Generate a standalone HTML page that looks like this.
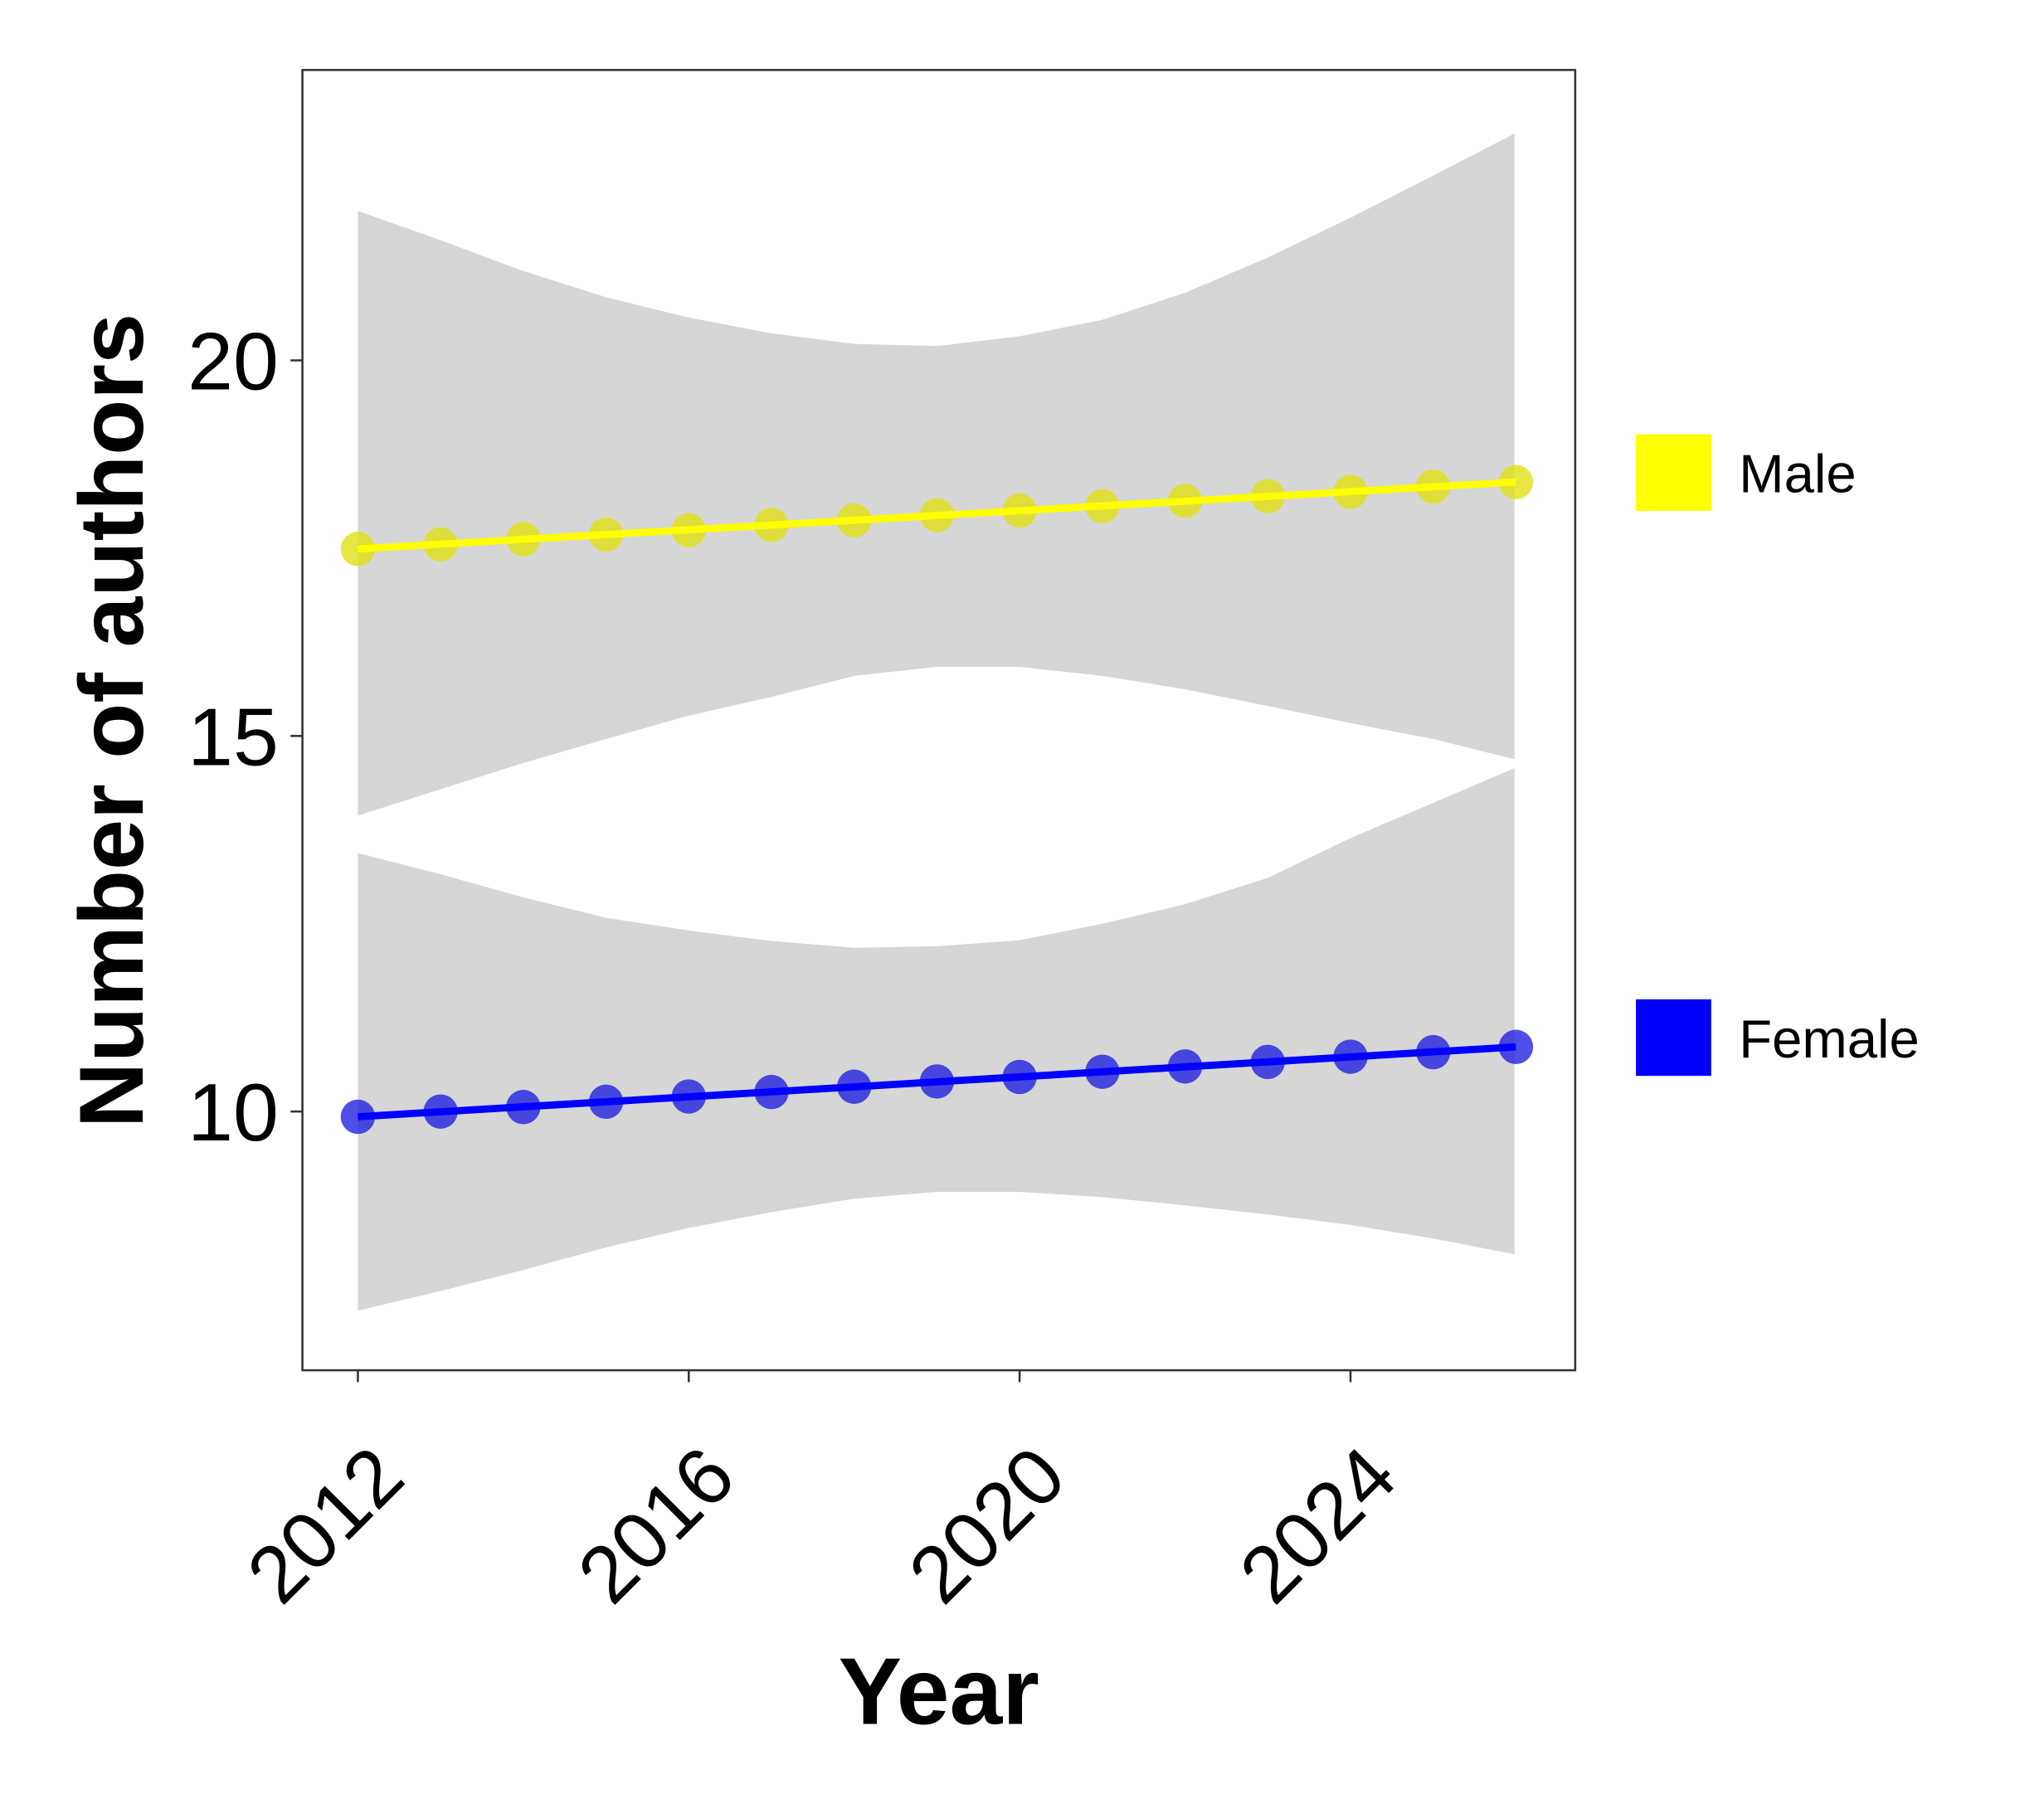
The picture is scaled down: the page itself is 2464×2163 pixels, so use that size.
<!DOCTYPE html>
<html><head><meta charset="utf-8"><style>
html,body{margin:0;padding:0;background:#fff}
svg{display:block}
text{font-family:"Liberation Sans",Arial,sans-serif}
</style></head><body>
<svg id="chart" width="2464" height="2163" viewBox="0 0 1548 1359" xmlns="http://www.w3.org/2000/svg">
<rect x="0" y="0" width="1548" height="1359" fill="#fff"/>
<g id="ribbons"></g>
<g id="series"></g>
<rect x="229" y="53" width="964" height="985" fill="none" stroke="#333" stroke-width="1.6"/>
<g id="axes"></g>
<text transform="translate(108,546) rotate(-90)" text-anchor="middle" font-size="69" font-weight="bold">Number of authors</text>
<text x="711" y="1306" text-anchor="middle" font-size="72" font-weight="bold">Year</text>
<g>
<rect x="1239" y="329" width="57" height="58" fill="#ffff00"/>
<text x="1317" y="373" font-size="41">Male</text>
<rect x="1239" y="757" width="57" height="58" fill="#0000ff"/>
<text x="1317" y="801" font-size="41">Female</text>
</g>
</svg>
<script>
const years=[2012,2013,2014,2015,2016,2017,2018,2019,2020,2021,2022,2023,2024,2025,2026];
const maleValues=[17.49,17.55,17.62,17.68,17.74,17.81,17.87,17.94,18.00,18.06,18.13,18.19,18.25,18.32,18.38];
const femaleValues=[9.93,10.00,10.06,10.13,10.20,10.26,10.33,10.40,10.46,10.53,10.60,10.66,10.73,10.79,10.86];
const maleUpper=[21.99,21.60,21.19,20.84,20.57,20.36,20.22,20.19,20.32,20.54,20.90,21.37,21.90,22.46,23.02];
const maleLower=[13.94,14.29,14.64,14.96,15.27,15.52,15.80,15.92,15.92,15.80,15.62,15.40,15.17,14.96,14.69];
const femaleUpper=[13.44,13.16,12.85,12.58,12.41,12.27,12.18,12.20,12.28,12.50,12.76,13.11,13.64,14.11,14.57];
const femaleLower=[7.35,7.61,7.89,8.19,8.45,8.66,8.84,8.93,8.93,8.86,8.75,8.63,8.49,8.31,8.10];
const yTicks=[10,15,20];
const xTicks=[2012,2016,2020,2024];

const NS='http://www.w3.org/2000/svg';
function xS(v){return 271+(v-2012)*62.65;}
function yS(v){return 842-(v-10)*56.9;}
function mk(tag,attrs,parent){const e=document.createElementNS(NS,tag);for(const k in attrs)e.setAttribute(k,attrs[k]);parent.appendChild(e);return e;}
const rib=document.getElementById('ribbons'),ser=document.getElementById('series'),ax=document.getElementById('axes');

function ribbon(up,lo,name){
  let d='';
  years.forEach((y,i)=>{const x=Math.min(xS(y),1147);d+=(i?'L':'M')+x+' '+yS(up[i]);});
  for(let i=years.length-1;i>=0;i--){const x=Math.min(xS(years[i]),1147);d+='L'+x+' '+yS(lo[i]);}
  const p=mk('path',{d:d+'Z',fill:'#d6d6d6'},rib);
  
  
}
ribbon(maleUpper,maleLower,'male-confidence-band');
ribbon(femaleUpper,femaleLower,'female-confidence-band');

function series(vals,pointColor,lineColor,name){
  vals.forEach((v,i)=>{
    const c=mk('circle',{cx:xS(years[i]),cy:yS(v),r:13,fill:pointColor,'fill-opacity':0.78},ser);
    
    
  });
  const n=vals.length-1;
  const l=mk('line',{x1:xS(years[0]),y1:yS(vals[0]),x2:xS(years[n]),y2:yS(vals[n]),stroke:lineColor,'stroke-width':5.5},ser);
  
  
}
series(maleValues,'#e0e010','#ffff00','male');
series(femaleValues,'#1e1ee0','#0000ff','female');

yTicks.forEach(t=>{
  const y=yS(t);
  const tk=mk('line',{x1:220,x2:229,y1:y,y2:y,stroke:'#333','stroke-width':1.6},ax);
  
  
  const tx=mk('text',{x:211,y:y+22,'text-anchor':'end','font-size':62,fill:'#000'},ax);
  tx.textContent=t;
  
  
});
xTicks.forEach(t=>{
  const x=xS(t);
  const tk=mk('line',{x1:x,x2:x,y1:1038,y2:1047,stroke:'#333','stroke-width':1.6},ax);
  
  
  const tx=mk('text',{transform:'translate('+(x+38)+',1122) rotate(-45)','text-anchor':'end','font-size':61,fill:'#000'},ax);
  tx.textContent=t;
  
  
});
</script>
</body></html>
